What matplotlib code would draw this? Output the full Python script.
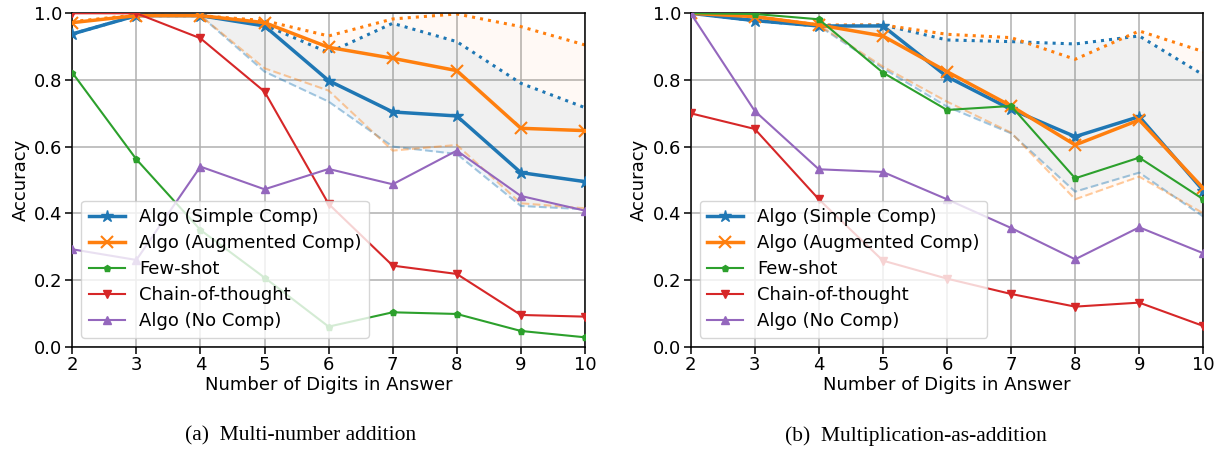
import matplotlib
matplotlib.use("Agg")
import matplotlib.pyplot as plt

digits = [2, 3, 4, 5, 6, 7, 8, 9, 10]

# (a) Multi-number addition
simple_a = [0.938, 0.993, 0.993, 0.962, 0.798, 0.704, 0.692, 0.522, 0.495]
simple_a_upper = [0.938, 0.993, 0.993, 0.965, 0.882, 0.970, 0.915, 0.790, 0.717]
simple_a_lower = [0.938, 0.993, 0.993, 0.825, 0.735, 0.600, 0.578, 0.422, 0.412]
aug_a = [0.972, 0.993, 0.993, 0.972, 0.898, 0.865, 0.828, 0.655, 0.648]
aug_a_upper = [0.975, 0.995, 0.993, 0.978, 0.932, 0.983, 0.998, 0.960, 0.905]
aug_a_lower = [0.972, 0.993, 0.993, 0.835, 0.768, 0.588, 0.605, 0.430, 0.415]
few_a = [0.822, 0.562, 0.350, 0.207, 0.060, 0.103, 0.098, 0.047, 0.028]
cot_a = [1.000, 1.000, 0.925, 0.765, 0.428, 0.243, 0.218, 0.095, 0.090]
nocomp_a = [0.292, 0.260, 0.540, 0.472, 0.533, 0.487, 0.588, 0.452, 0.408]

# (b) Multiplication-as-addition
simple_b = [1.000, 0.978, 0.962, 0.962, 0.810, 0.712, 0.630, 0.690, 0.468]
simple_b_upper = [1.000, 0.978, 0.962, 0.965, 0.920, 0.915, 0.908, 0.932, 0.815]
simple_b_lower = [1.000, 0.978, 0.962, 0.835, 0.720, 0.640, 0.465, 0.522, 0.390]
aug_b = [1.000, 0.990, 0.965, 0.932, 0.825, 0.722, 0.605, 0.680, 0.475]
aug_b_upper = [1.000, 0.990, 0.965, 0.965, 0.937, 0.927, 0.862, 0.947, 0.885]
aug_b_lower = [1.000, 0.990, 0.965, 0.840, 0.735, 0.642, 0.442, 0.510, 0.400]
few_b = [1.000, 0.998, 0.982, 0.822, 0.710, 0.722, 0.505, 0.567, 0.442]
cot_b = [0.700, 0.653, 0.442, 0.258, 0.204, 0.158, 0.120, 0.132, 0.062]
nocomp_b = [1.000, 0.707, 0.532, 0.524, 0.442, 0.356, 0.262, 0.358, 0.280]

labels = ["Algo (Simple Comp)", "Algo (Augmented Comp)", "Few-shot",
          "Chain-of-thought", "Algo (No Comp)"]
captions = ["(a)  Multi-number addition", "(b)  Multiplication-as-addition"]

C0, C1, C2, C3, C4 = "#1f77b4", "#ff7f0e", "#2ca02c", "#d62728", "#9467bd"

fig = plt.figure(figsize=(12.25, 4.49), dpi=100)
axes = [fig.add_axes([0.059, 0.228, 0.4185, 0.7424]),
        fig.add_axes([0.5638, 0.228, 0.4185, 0.7424])]

panels = [
    (simple_a, simple_a_upper, simple_a_lower, aug_a, aug_a_upper, aug_a_lower, few_a, cot_a, nocomp_a),
    (simple_b, simple_b_upper, simple_b_lower, aug_b, aug_b_upper, aug_b_lower, few_b, cot_b, nocomp_b),
]

FS = 13

for ax, p, cap, cx in zip(axes, panels, captions, [301, 916]):
    s, su, sl, a, au, al, f, c, n = p
    ax.grid(True, color="#b0b0b0", linewidth=1.1, zorder=0)
    ax.set_axisbelow(True)
    ax.fill_between(digits, sl, su, color=C0, alpha=0.065, linewidth=0, zorder=1)
    ax.fill_between(digits, al, au, color=C1, alpha=0.04, linewidth=0, zorder=1)
    ax.plot(digits, su, ":", color=C0, linewidth=2.2, zorder=2)
    ax.plot(digits, au, ":", color=C1, linewidth=2.2, zorder=2)
    ax.plot(digits, sl, "--", color=C0, alpha=0.4, linewidth=1.5, zorder=2)
    ax.plot(digits, al, "--", color=C1, alpha=0.4, linewidth=1.5, zorder=2)
    ax.plot(digits, s, color=C0, marker="*", markersize=9, linewidth=2.5, label=labels[0], zorder=3)
    ax.plot(digits, a, color=C1, marker="x", markersize=9, markeredgewidth=1.5, linewidth=2.5, label=labels[1], zorder=3)
    ax.plot(digits, f, color=C2, marker="p", markersize=5, linewidth=1.5, label=labels[2], zorder=3)
    ax.plot(digits, c, color=C3, marker="v", markersize=6, linewidth=1.5, label=labels[3], zorder=3)
    ax.plot(digits, n, color=C4, marker="^", markersize=6, linewidth=1.5, label=labels[4], zorder=3)
    ax.set_xlim(2, 10)
    ax.set_ylim(0, 1)
    ax.set_xticks(digits)
    ax.set_yticks([0.0, 0.2, 0.4, 0.6, 0.8, 1.0])
    ax.set_yticklabels(["0.0", "0.2", "0.4", "0.6", "0.8", "1.0"])
    ax.tick_params(labelsize=FS, length=5, width=1.1, pad=2)
    for sp in ax.spines.values():
        sp.set_linewidth(1.1)
    ax.set_xlabel("Number of Digits in Answer", fontsize=FS, labelpad=1)
    ax.set_ylabel("Accuracy", fontsize=FS, labelpad=3)
    ax.legend(loc="lower left", fontsize=FS, framealpha=0.8, edgecolor="0.8",
              handlelength=2.0, borderaxespad=0.5, labelspacing=0.45)
    fig.text(cx / 1225, 1 - 436 / 449, cap, ha="center", va="center",
             fontsize=15.5, family="Liberation Serif")

fig.savefig("out.png", dpi=100)
